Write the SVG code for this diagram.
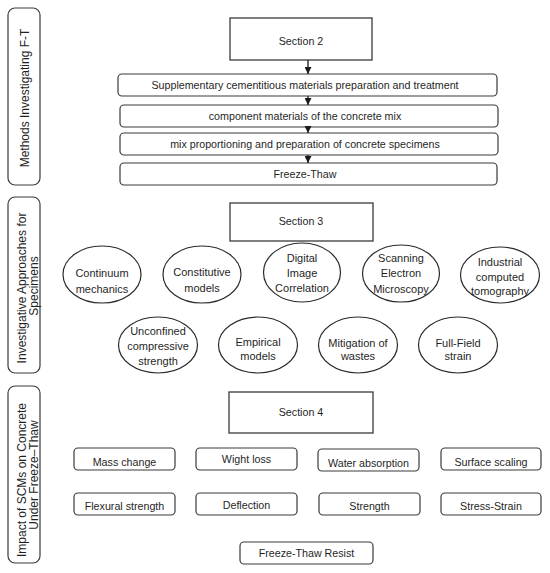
<svg xmlns="http://www.w3.org/2000/svg" width="550" height="573" viewBox="0 0 550 573">
<defs>
<style>
.bg{fill:#ffffff}
.side{fill:#fff;stroke:#3a3a3a;stroke-width:1.2}
.sec{fill:#fff;stroke:#3a3a3a;stroke-width:1.3}
.box{fill:#fff;stroke:#3a3a3a;stroke-width:1.2}
.ell{fill:#fff;stroke:#2a2a2a;stroke-width:1.2}
text{font-family:"Liberation Sans",Arial,sans-serif;fill:#1f1f1f;text-anchor:middle}
.t{font-size:10.7px}
.e{font-size:11px}
.s{font-size:12px}
.conn{stroke:#1a1a1a;stroke-width:1.3;fill:none}
</style>
<marker id="ah" markerUnits="userSpaceOnUse" markerWidth="8" markerHeight="7" refX="7" refY="3.5" orient="auto">
<path d="M0,0 L7,3.5 L0,7 Z" fill="#1a1a1a"/>
</marker>
</defs>
<rect class="bg" x="0" y="0" width="550" height="573"/>

<g id="side1">
<rect class="side" x="8" y="8" width="32" height="177" rx="7"/>
<text class="s" transform="translate(29,98) rotate(-90)">Methods Investigating F-T</text>
</g>
<g id="side2">
<rect class="side" x="8" y="197" width="32" height="176" rx="7"/>
<text class="s" transform="translate(26,288) rotate(-90)">Investigative Approaches for</text>
<text class="s" transform="translate(38,286) rotate(-90)">Specimens</text>
</g>
<g id="side3">
<rect class="side" x="8" y="386" width="32" height="177" rx="7"/>
<text class="s" transform="translate(26,480) rotate(-90)">Impact of SCMs on Concrete</text>
<text class="s" transform="translate(38,475) rotate(-90)">Under Freeze–Thaw</text>
</g>

<g id="section2">
<rect class="sec" x="230" y="18" width="142" height="42"/>
<text class="t" x="301" y="45">Section 2</text>
</g>
<g id="scm">
<rect class="box" x="118" y="74" width="379" height="22" rx="4"/>
<text class="t" x="305" y="89">Supplementary cementitious materials preparation and treatment</text>
</g>
<g id="component">
<rect class="box" x="120" y="105" width="378" height="22" rx="4"/>
<text class="t" x="305" y="120">component materials of the concrete mix</text>
</g>
<g id="mixprop">
<rect class="box" x="120" y="133" width="378" height="22" rx="4"/>
<text class="t" x="305" y="148">mix proportioning and preparation of concrete specimens</text>
</g>
<g id="freezethaw">
<rect class="box" x="120" y="163" width="377" height="22" rx="4"/>
<text class="t" x="305" y="178">Freeze-Thaw</text>
</g>

<g id="connectors">
<line class="conn" x1="308" y1="60" x2="308" y2="74" marker-end="url(#ah)"/>
<line class="conn" x1="308" y1="96" x2="308" y2="105" marker-end="url(#ah)"/>
<line class="conn" x1="308" y1="127" x2="308" y2="133" marker-end="url(#ah)"/>
<line class="conn" x1="308" y1="155" x2="308" y2="163" marker-end="url(#ah)"/>
</g>

<g id="section3">
<rect class="sec" x="230" y="203" width="143" height="38"/>
<text class="t" x="301" y="225">Section 3</text>
</g>

<g id="continuum">
<ellipse class="ell" cx="102" cy="274.5" rx="39" ry="28.5"/>
<text class="e" x="102" y="277">Continuum</text>
<text class="e" x="102" y="293">mechanics</text>
</g>
<g id="constitutive">
<ellipse class="ell" cx="202" cy="274.5" rx="39" ry="28.5"/>
<text class="e" x="202" y="276">Constitutive</text>
<text class="e" x="202" y="292">models</text>
</g>
<g id="dic">
<ellipse class="ell" cx="302" cy="272.5" rx="38.5" ry="29.5"/>
<text class="e" x="302" y="262">Digital</text>
<text class="e" x="302" y="277">Image</text>
<text class="e" x="302" y="292">Correlation</text>
</g>
<g id="sem">
<ellipse class="ell" cx="401" cy="273.5" rx="38.5" ry="28.5"/>
<text class="e" x="401" y="262">Scanning</text>
<text class="e" x="401" y="277">Electron</text>
<text class="e" x="401" y="293">Microscopy</text>
</g>
<g id="ict">
<ellipse class="ell" cx="500" cy="275" rx="39.5" ry="28"/>
<text class="e" x="500" y="266">Industrial</text>
<text class="e" x="500" y="281">computed</text>
<text class="e" x="500" y="295">tomography</text>
</g>

<g id="ucs">
<ellipse class="ell" cx="158" cy="345" rx="39.5" ry="28"/>
<text class="e" x="158" y="335">Unconfined</text>
<text class="e" x="158" y="350">compressive</text>
<text class="e" x="158" y="365">strength</text>
</g>
<g id="empirical">
<ellipse class="ell" cx="258" cy="345" rx="39.5" ry="28"/>
<text class="e" x="258" y="346">Empirical</text>
<text class="e" x="258" y="360">models</text>
</g>
<g id="mitigation">
<ellipse class="ell" cx="358" cy="345" rx="39.5" ry="28"/>
<text class="e" x="358" y="347">Mitigation of</text>
<text class="e" x="358" y="360">wastes</text>
</g>
<g id="fullfield">
<ellipse class="ell" cx="458" cy="345" rx="39.5" ry="28"/>
<text class="e" x="458" y="347">Full-Field</text>
<text class="e" x="458" y="360">strain</text>
</g>

<g id="section4">
<rect class="sec" x="229" y="392" width="144" height="41"/>
<text class="t" x="301" y="416">Section 4</text>
</g>

<g id="mass">
<rect class="box" x="74" y="448" width="101" height="22" rx="4"/>
<text class="t" x="124.5" y="465.5">Mass change</text>
</g>
<g id="wight">
<rect class="box" x="196" y="448" width="101" height="22" rx="4"/>
<text class="t" x="246.5" y="463">Wight loss</text>
</g>
<g id="water">
<rect class="box" x="318" y="449" width="101" height="22" rx="4"/>
<text class="t" x="368.5" y="466.5">Water absorption</text>
</g>
<g id="surface">
<rect class="box" x="441" y="448" width="100" height="22" rx="4"/>
<text class="t" x="491" y="465.5">Surface scaling</text>
</g>
<g id="flexural">
<rect class="box" x="74" y="493" width="101" height="22" rx="4"/>
<text class="t" x="124.5" y="509.5">Flexural strength</text>
</g>
<g id="deflection">
<rect class="box" x="196" y="493" width="101" height="22" rx="4"/>
<text class="t" x="246.5" y="508.5">Deflection</text>
</g>
<g id="strength">
<rect class="box" x="319" y="493" width="101" height="22" rx="4"/>
<text class="t" x="369.5" y="509.5">Strength</text>
</g>
<g id="stress">
<rect class="box" x="441" y="493" width="100" height="22" rx="4"/>
<text class="t" x="491" y="509.5">Stress-Strain</text>
</g>
<g id="resist">
<rect class="box" x="240" y="542" width="133" height="22" rx="4"/>
<text class="t" x="306.5" y="557">Freeze-Thaw Resist</text>
</g>
</svg>
